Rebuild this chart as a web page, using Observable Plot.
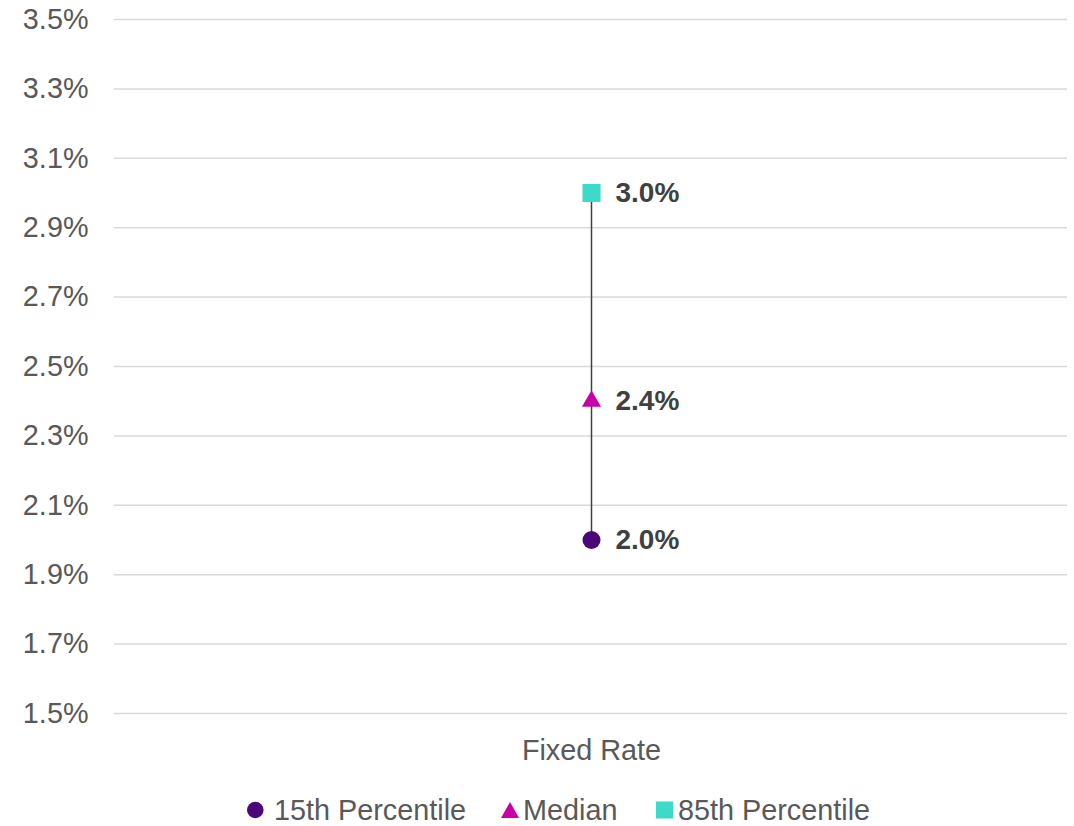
<!DOCTYPE html>
<html>
<head>
<meta charset="utf-8">
<script src="https://cdn.jsdelivr.net/npm/d3@7"></script>
<script src="https://cdn.jsdelivr.net/npm/@observablehq/plot@0.6"></script>
<style>
  html, body { margin: 0; padding: 0; background: #fff; }
  #wrap { position: relative; width: 1074px; height: 826px; font-family: "Liberation Sans", Arial, sans-serif; }
  .lg { position: absolute; top: 790px; height: 40px; line-height: 40px; font-size: 28.8px; color: #595959; white-space: nowrap; }
  .sw { position: absolute; }
</style>
</head>
<body>
<div id="wrap"></div>
<script>
const categories = ["Fixed Rate"];
const p15 = [2.0];
const median = [2.4];
const p85 = [3.0];
const yTicks = [1.5, 1.7, 1.9, 2.1, 2.3, 2.5, 2.7, 2.9, 3.1, 3.3, 3.5];
const seriesNames = ["15th Percentile", "Median", "85th Percentile"];
const seriesColors = ["#4B0878", "#C800A8", "#3DD9C9"];

const fmt = d => d.toFixed(1) + "%";

const chart = Plot.plot({
  width: 1074,
  height: 782,
  marginTop: 19,
  marginBottom: 69,
  marginLeft: 114,
  marginRight: 7,
  style: { fontFamily: "'Liberation Sans', Arial, sans-serif", fontSize: "28.8px", color: "#595959", background: "transparent" },
  x: { type: "point", domain: categories },
  y: { domain: [1.5, 3.5] },
  marks: [
    Plot.ruleY(yTicks, { stroke: "#d9d9d9", strokeWidth: 1.5 }),
    Plot.axisY({ ticks: yTicks, tickSize: 0, tickPadding: 26, tickFormat: fmt, label: null, fontSize: 28.8 }),
    Plot.axisX({ tickSize: 0, tickPadding: 26, label: null, fontSize: 28.8 }),
    Plot.ruleX(categories, { x: d => d, y1: (d, i) => p15[i], y2: (d, i) => p85[i], stroke: "#404040", strokeWidth: 1.5 }),
    Plot.dot(categories, { x: d => d, y: (d, i) => p15[i], symbol: "circle", r: 9, fill: seriesColors[0] }),
    Plot.dot(categories, { x: d => d, y: (d, i) => median[i], symbol: "triangle", r: 7.1, fill: seriesColors[1] }),
    Plot.dot(categories, { x: d => d, y: (d, i) => p85[i], symbol: "square", r: 10.2, fill: seriesColors[2] }),
    Plot.text(categories, { x: d => d, y: (d, i) => p15[i], text: (d, i) => fmt(p15[i]), dx: 24, textAnchor: "start", fontWeight: "bold", fontSize: 28, fill: "#404040" }),
    Plot.text(categories, { x: d => d, y: (d, i) => median[i], text: (d, i) => fmt(median[i]), dx: 24, textAnchor: "start", fontWeight: "bold", fontSize: 28, fill: "#404040" }),
    Plot.text(categories, { x: d => d, y: (d, i) => p85[i], text: (d, i) => fmt(p85[i]), dx: 24, textAnchor: "start", fontWeight: "bold", fontSize: 28, fill: "#404040" })
  ]
});

const wrap = document.getElementById("wrap");
wrap.appendChild(chart);

// Legend
const legendItems = [
  { name: seriesNames[0], color: seriesColors[0], shape: "circle", swLeft: 247, textLeft: 274 },
  { name: seriesNames[1], color: seriesColors[1], shape: "triangle", swLeft: 501, textLeft: 523 },
  { name: seriesNames[2], color: seriesColors[2], shape: "square", swLeft: 656, textLeft: 678 }
];
for (const it of legendItems) {
  const sw = document.createElementNS("http://www.w3.org/2000/svg", "svg");
  sw.setAttribute("width", 18);
  sw.setAttribute("height", 18);
  sw.setAttribute("class", "sw");
  sw.style.left = it.swLeft + "px";
  sw.style.top = "801px";
  let shape;
  if (it.shape === "circle") {
    shape = document.createElementNS("http://www.w3.org/2000/svg", "circle");
    shape.setAttribute("cx", 8.3); shape.setAttribute("cy", 9); shape.setAttribute("r", 8.3);
  } else if (it.shape === "triangle") {
    shape = document.createElementNS("http://www.w3.org/2000/svg", "polygon");
    shape.setAttribute("points", "9,1 18,17 0,17");
  } else {
    shape = document.createElementNS("http://www.w3.org/2000/svg", "rect");
    shape.setAttribute("x", 0); shape.setAttribute("y", 0.5); shape.setAttribute("width", 17); shape.setAttribute("height", 17);
  }
  shape.setAttribute("fill", it.color);
  sw.appendChild(shape);
  wrap.appendChild(sw);
  const t = document.createElement("div");
  t.className = "lg";
  t.style.left = it.textLeft + "px";
  t.textContent = it.name;
  wrap.appendChild(t);
}
</script>
</body>
</html>
